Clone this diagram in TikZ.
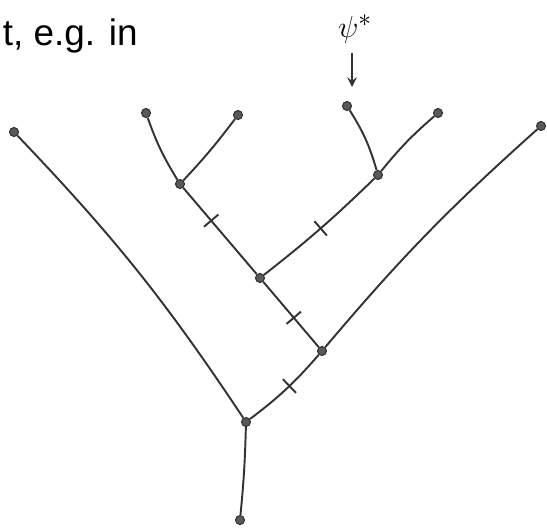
\documentclass[tikz,border=0pt]{standalone}
\usepackage{fontspec}
\setmainfont{Liberation Sans}
\begin{document}
\begin{tikzpicture}[x=0.02cm,y=-0.02cm,line width=1.1pt]
	\tikzstyle{edge} = [draw=black!80]
	\tikzstyle{vertex} = [circle,fill=black!65,draw=black!80,line width=0.6pt,inner sep=0pt,minimum size=0.18cm]
	\tikzstyle{cut} = [draw=black!80,rectangle,inner sep=0pt,minimum width=0pt,minimum height=0.38cm,line width=1.1pt]
	\useasboundingbox (0,0) rectangle (547,527);
	\node (note) [anchor=base west,inner sep=0pt,font=\fontsize{21}{24}\selectfont] at (2,46) {t, e.g. in};
	\node (psi) [inner sep=1pt,font=\fontsize{19}{22}\selectfont] at (355,29) {$\psi^*$};
	\node (l1) [vertex] at (14,132) {};
	\node (l2) [vertex] at (146,113) {};
	\node (l3) [vertex] at (238,115) {};
	\node (l4) [vertex] at (347,106) {};
	\node (l5) [vertex] at (438,113) {};
	\node (l6) [vertex] at (541,126) {};
	\node (a) [vertex] at (180,184) {};
	\node (b) [vertex] at (378,175) {};
	\node (c) [vertex] at (260,278) {};
	\node (d) [vertex] at (322,351) {};
	\node (root) [vertex] at (246,422) {};
	\node (base) [vertex] at (240,520) {};
	\coordinate (tip) at (352,87);
	
	\draw[-stealth,draw=black!80,line width=1.4pt] (352,53) -- (tip);
	\draw[edge] (l2) to[bend right=6] (a);
	\draw[edge] (l3) to[bend left=3] (a);
	\draw[edge] (l4) to[bend left=8] (b);
	\draw[edge] (l5) to[bend right=5] (b);
	\draw[edge] (a) -- (c) node[cut,sloped,pos=0.38] {};
	\draw[edge] (b) to[bend left=3] node[cut,sloped,pos=0.5] {} (c);
	\draw[edge] (c) -- (d) node[cut,sloped,pos=0.55] {};
	\draw[edge] (l6) to[bend right=4] (d);
	\draw[edge] (l1) to[bend left=5] (root);
	\draw[edge] (d) to[bend left=6] node[cut,sloped,pos=0.45] {} (root);
	\draw[edge] (root) to[bend left=2] (base);
\end{tikzpicture}
\end{document}
